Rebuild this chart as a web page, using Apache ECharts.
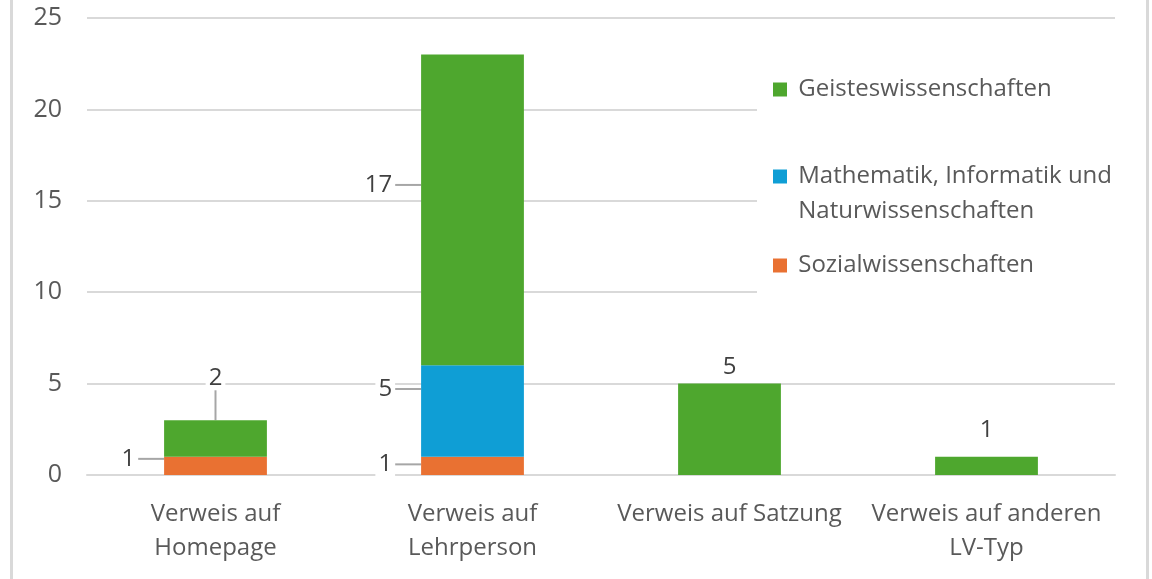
<!DOCTYPE html>
<html>
<head>
<meta charset="utf-8">
<script src="https://cdn.jsdelivr.net/npm/echarts@6/dist/echarts.min.js"></script>
<style>
  body { margin: 0; background: #fff; }
  #wrap { position: relative; width: 1152px; height: 579px; overflow: hidden; }
  #mychart { width: 1152px; height: 579px; }
  #frame { position: absolute; left: 10px; top: -5px; width: 1133px; height: 600px;
           border-left: 3px solid #d9d9d9; border-right: 3px solid #d9d9d9; pointer-events: none; }
</style>
</head>
<body>
<div id="wrap">
  <div id="mychart"></div>
  <div id="frame"></div>
</div>
<script>
// Kategorien (x-Achse)
const categories = ["Verweis auf\nHomepage", "Verweis auf\nLehrperson", "Verweis auf Satzung", "Verweis auf anderen\nLV-Typ"];
// Reihen, von unten nach oben gestapelt
const seriesNames = ["Sozialwissenschaften", "Mathematik, Informatik und\nNaturwissenschaften", "Geisteswissenschaften"];
const sozialData = [1, 1, null, null];
const matheData = [null, 5, null, null];
const geistesData = [2, 17, 5, 1];
const yTicks = [0, 5, 10, 15, 20, 25];

const colors = ["#e97132", "#0f9ed5", "#4ea72e"];
const font = "Open Sans";

// wo die Datenbeschriftungen sitzen (wie in Excel verschoben)
const labelSpots = [
  [{ side: "left", dy: -7 }, { side: "left", dy: -1.5 }, null, null],
  [null, { side: "left", dy: -22 }, null, null],
  [{ side: "top", gap: 42, line: true }, { side: "left", dy: -25 }, { side: "top", gap: 16 }, { side: "top", gap: 27 }]
];

function placeLabel(params) {
  const spot = labelSpots[params.seriesIndex][params.dataIndex];
  if (!spot) return {};
  const r = params.rect;
  const cx = r.x + r.width / 2, cy = r.y + r.height / 2;
  if (spot.side === "left") {
    return { x: r.x - 26, y: cy + spot.dy, align: "right", verticalAlign: "middle" };
  }
  return { x: cx, y: r.y - spot.gap, align: "center", verticalAlign: "middle" };
}

const allData = [sozialData, matheData, geistesData];

const series = seriesNames.map((name, i) => ({
  name: name,
  type: "bar",
  stack: "total",
  barWidth: "40%",
  data: allData[i].map((v, j) => {
    const spot = labelSpots[i][j];
    return { value: v, labelLine: { show: !!spot && (spot.side === "left" || !!spot.line) } };
  }),
  itemStyle: { color: colors[i] },
  label: {
    show: true,
    formatter: "{c}",
    color: "#404040",
    fontFamily: font,
    fontSize: 24,
    backgroundColor: "#fff",
    padding: [0, 3]
  },
  labelLine: { show: true, lineStyle: { color: "#a6a6a6", width: 2 } },
  labelLayout: placeLabel
}));

function legendFor(idx, top, extraLine) {
  return {
    data: [seriesNames[idx]],
    orient: "vertical",
    left: 773,
    top: top,
    padding: 0,
    itemWidth: 14,
    itemHeight: 14,
    itemGap: 0,
    icon: "rect",
    selectedMode: false,
    // Excel: Symbol steht an der ersten Zeile
    formatter: name => (extraLine ? "\n" : "") + name.split("\n").map(s => " " + s).join("\n"),
    textStyle: { color: "#595959", fontFamily: font, fontSize: 24, lineHeight: 35 }
  };
}

const option = {
  animation: false,
  grid: { left: 87, right: 37, top: 18, bottom: 104 },
  legend: [
    legendFor(2, 72),
    legendFor(1, 124, true),
    legendFor(0, 248)
  ],
  graphic: [{
    type: "rect", left: 757, top: 60, z: 1,
    shape: { width: 390, height: 245 },
    style: { fill: "#fff" }
  }],
  xAxis: {
    type: "category",
    data: categories,
    axisLine: { show: true, lineStyle: { color: "#d9d9d9", width: 2 } },
    axisTick: { show: false },
    axisLabel: { color: "#595959", fontFamily: font, fontSize: 24, lineHeight: 34, margin: 22, interval: 0 }
  },
  yAxis: {
    type: "value",
    min: yTicks[0],
    max: yTicks[yTicks.length - 1],
    interval: yTicks[1] - yTicks[0],
    axisLine: { show: false },
    axisTick: { show: false },
    axisLabel: { color: "#595959", fontFamily: font, fontSize: 25, margin: 25 },
    splitLine: { lineStyle: { color: "#d9d9d9", width: 2 } }
  },
  series: series
};

const myChart = echarts.init(document.getElementById("mychart"));
myChart.setOption(option);
window.addEventListener("resize", () => {
  myChart.resize();
});
</script>
</body>
</html>
